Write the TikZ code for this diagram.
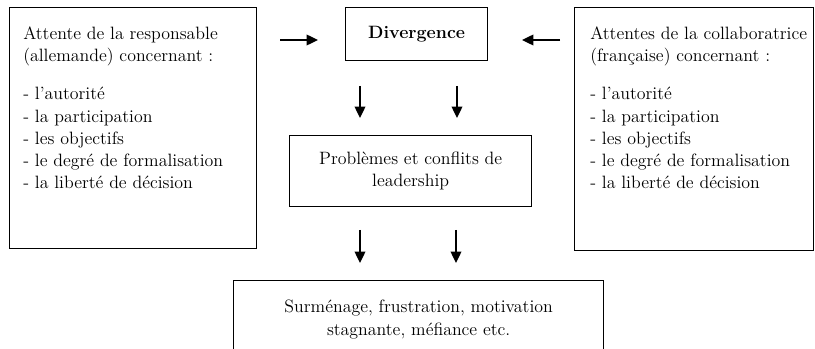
\documentclass[tikz,border=0pt]{standalone}
\usetikzlibrary{arrows.meta}

\begin{document}
\begin{tikzpicture}[x=0.75pt, y=-0.75pt,
    every node/.style={font=\fontsize{13.4}{16.7}\selectfont},
    cadre/.style={draw, line width=1pt, anchor=north west, inner sep=0pt},
    texte/.style={anchor=north west, align=left, inner sep=0pt},
    fleche/.style={line width=1pt, -{Triangle[length=8.5pt, width=8pt]}}]
    \useasboundingbox (0, 0) rectangle (815, 349);

    % les deux attentes
    \node[cadre, minimum width=185.25pt, minimum height=180.75pt] (gauche) at (9, 7) {};
    \node[texte] (gaucheTexte) at (23, 26.5) {Attente de la responsable\\
        (allemande) concernant :\\[11.8pt]
        - l’autorité\\
        - la participation\\
        - les objectifs\\
        - le degré de formalisation\\
        - la liberté de décision};
    \node[cadre, minimum width=179.25pt, minimum height=182.25pt] (droite) at (574, 7) {};
    \node[texte] (droiteTexte) at (590, 26.5) {Attentes de la collaboratrice\\
        (française) concernant :\\[11.8pt]
        - l’autorité\\
        - la participation\\
        - les objectifs\\
        - le degré de formalisation\\
        - la liberté de décision};

    % le milieu
    \node[cadre, minimum width=106.5pt, minimum height=39.75pt,
          font=\fontsize{13.4}{16.7}\selectfont\bfseries] (divergence) at (345, 7) {Divergence};
    \node[cadre, minimum width=181.5pt, minimum height=53.25pt, align=center] (problemes)
        at (289, 135) {Problèmes et conflits de\\leadership};
    \node[cadre, minimum width=277.5pt, minimum height=58.5pt, align=center] (suites)
        at (233, 280) {Surménage, frustration, motivation\\stagnante, méfiance etc.};

    \coordinate (hG1) at (280, 40);
    \coordinate (hG2) at (318, 40);
    \coordinate (hD1) at (560, 40);
    \coordinate (hD2) at (522, 40);
    \coordinate (bA1) at (360, 86);
    \coordinate (bA2) at (360, 118);
    \coordinate (bB1) at (457, 86);
    \coordinate (bB2) at (457, 118);
    \coordinate (bC1) at (360, 230);
    \coordinate (bC2) at (360, 263);
    \coordinate (bD1) at (456, 230);
    \coordinate (bD2) at (456, 263);
    \draw[fleche] (hG1) -- (hG2);
    \draw[fleche] (hD1) -- (hD2);
    \draw[fleche] (bA1) -- (bA2);
    \draw[fleche] (bB1) -- (bB2);
    \draw[fleche] (bC1) -- (bC2);
    \draw[fleche] (bD1) -- (bD2);
\end{tikzpicture}
\end{document}
